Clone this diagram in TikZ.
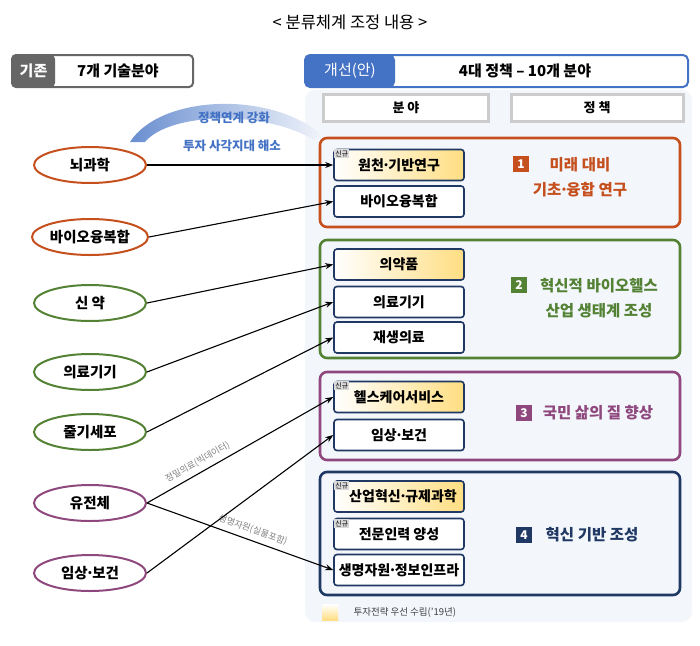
\documentclass[tikz,border=0pt]{standalone}
\usepackage{fontspec}
\setmainfont{Noto Sans CJK KR}
\usetikzlibrary{arrows.meta,shapes.geometric}
\definecolor{grpone}{RGB}{197,80,30}
\definecolor{grptwo}{RGB}{84,130,53}
\definecolor{grpthree}{RGB}{142,72,125}
\definecolor{grpfour}{RGB}{32,56,100}
\definecolor{headblue}{RGB}{68,114,196}
\definecolor{panelcolor}{RGB}{243,246,251}
\definecolor{newyellow}{RGB}{255,222,130}
\newcommand{\mdot}{\hbox to 0.32em{\hss·\hss}}
\tikzset{
  oldfield/.style={ellipse, draw=#1, line width=2pt, minimum width=112pt, minimum height=36pt, inner sep=1pt, font=\bfseries\fontsize{14.5}{16}\selectfont},
  fieldbox/.style={draw=grpfour, line width=1.6pt, rounded corners=3pt, minimum width=130pt, minimum height=31pt, inner sep=1pt, fill=white, font=\bfseries\fontsize{14}{16}\selectfont},
  newfield/.style={fieldbox, left color=white, right color=newyellow},
  groupbox/.style={draw=#1, line width=2.6pt, rounded corners=7pt},
  grouptext/.style={text=#1, font=\bfseries\fontsize{15.5}{25}\selectfont, align=center},
  numbox/.style={fill=#1, text=white, font=\bfseries\fontsize{12}{13}\selectfont, minimum size=16pt, inner sep=0pt},
  newtag/.style={fill=black!15, font=\fontsize{7}{8}\selectfont, inner sep=1.2pt},
  link/.style={-{Stealth[length=8pt]}, line width=1.1pt},
  linklabel/.style={text=black!50, font=\fontsize{9}{10}\selectfont, sloped, above=2pt}
}
\begin{document}
\begin{tikzpicture}[x=1pt, y=-1pt]
  \useasboundingbox (0,0) rectangle (700,645);
  % title
  \node (title) at (350,22) {\fontsize{16.5}{18}\selectfont < 분류체계 조정 내용 >};

  % headers
  \draw[draw=black!60, line width=2pt, fill=white, rounded corners=4pt] (12,55) rectangle (193,87);
  \fill[black!60, rounded corners=4pt] (12,55) rectangle (55,87);
  \node[text=white, font=\bfseries\fontsize{15}{16}\selectfont] (oldtag) at (33.5,71) {기존};
  \node[font=\bfseries\fontsize{15}{16}\selectfont] (oldhead) at (118,71) {7개 기술분야};
  \draw[draw=headblue, line width=2pt, fill=white, rounded corners=5pt] (305,55) rectangle (688,87);
  \fill[headblue, rounded corners=5pt] (305,55) rectangle (395,87);
  \node[text=white, font=\fontsize{15}{16}\selectfont] (newtaghead) at (350,71) {개선(안)};
  \node[font=\bfseries\fontsize{15}{16}\selectfont] (newhead) at (525,71) {4대 정책 – 10개 분야};

  % panel
  \fill[panelcolor, rounded corners=10pt] (305,90) rectangle (692,622);
  \node[draw=black!20, line width=3pt, fill=white, minimum width=165pt, minimum height=27pt, font=\bfseries\fontsize{13}{14}\selectfont] (colfield) at (406,108) {분 야};
  \node[draw=black!20, line width=3pt, fill=white, minimum width=172pt, minimum height=27pt, font=\bfseries\fontsize{13}{14}\selectfont] (colpolicy) at (597,108) {정 책};

  % banner
  \shade[left color=headblue!80, right color=headblue!8, draw=none]
    (130,142) .. controls (160,95) and (270,90) .. (322,135)
    -- (314,140) .. controls (265,110) and (170,112) .. (145,142) -- cycle;
  \node[text=headblue, font=\bfseries\itshape\fontsize{12.5}{14}\selectfont] (bannerone) at (234,118) {정책연계 강화};
  \node[text=headblue, font=\bfseries\itshape\fontsize{12.5}{14}\selectfont] (bannertwo) at (232,146) {투자 사각지대 해소};

  % groups
  \draw[groupbox=grpone] (320,138) rectangle (680,227);
  \draw[groupbox=grptwo] (320,240) rectangle (680,358);
  \draw[groupbox=grpthree] (320,372) rectangle (680,460);
  \draw[groupbox=grpfour] (320,472) rectangle (680,595);

  \node[newfield] (basic) at (399,165) {원천\mdot 기반연구};
  \node[fieldbox] (fusion) at (399,201.5) {바이오융복합};
  \node[newfield] (drug) at (399,264.5) {의약품};
  \node[fieldbox] (device) at (399,302) {의료기기};
  \node[fieldbox] (regen) at (399,337.5) {재생의료};
  \node[newfield] (care) at (399,397) {헬스케어서비스};
  \node[fieldbox] (clinic) at (399,435) {임상\mdot 보건};
  \node[newfield] (regul) at (399,496.5) {\hspace{8pt}산업혁신\mdot 규제과학};
  \node[fieldbox] (talent) at (399,534) {전문인력 양성};
  \node[fieldbox] (infra) at (399,570) {생명자원\mdot 정보인프라};

  \node[newtag, anchor=north west] (tagone) at (334,149) {신규};
  \node[newtag, anchor=north west] (tagtwo) at (334,381) {신규};
  \node[newtag, anchor=north west] (tagthree) at (334,481) {신규};
  \node[newtag, anchor=north west] (tagfour) at (334,519) {신규};

  \node[numbox=grpone] (numone) at (521,164) {1};
  \node[grouptext=grpone] (polone) at (580,177) {미래 대비\\기초\mdot 융합 연구};
  \node[numbox=grptwo] (numtwo) at (519,285) {2};
  \node[grouptext=grptwo] (poltwo) at (599,298) {혁신적 바이오헬스\\산업 생태계 조성};
  \node[numbox=grpthree] (numthree) at (524,413) {3};
  \node[grouptext=grpthree] (polthree) at (598,413) {국민 삶의 질 향상};
  \node[numbox=grpfour] (numfour) at (524,535) {4};
  \node[grouptext=grpfour] (polfour) at (592,535) {혁신 기반 조성};

  % legend
  \shade[top color=white, bottom color=newyellow] (322,604) rectangle (338,620);
  \node[font=\fontsize{9.5}{10}\selectfont, text=black!75, anchor=west] (legend) at (350,612) {투자전략 우선 수립('19년)};

  % old fields
  \node[oldfield=grpone] (brain) at (90,165) {뇌과학};
  \node[oldfield=grpone] (oldfusion) at (90,237) {바이오융복합};
  \node[oldfield=grptwo] (newdrug) at (90,303) {신 약};
  \node[oldfield=grptwo] (olddevice) at (90,372) {의료기기};
  \node[oldfield=grptwo] (stem) at (90,432) {줄기세포};
  \node[oldfield=grpthree] (genome) at (90,503) {유전체};
  \node[oldfield=grpthree] (oldclinic) at (90,573) {임상\mdot 보건};

  % links
  \draw[link] (brain.east) -- (basic.west);
  \draw[link] (oldfusion.east) -- (fusion.west);
  \draw[link] (newdrug.east) -- (drug.west);
  \draw[link] (olddevice.east) -- (device.west);
  \draw[link] (stem.east) -- (regen.west);
  \draw[link] (genome.east) -- node[linklabel, pos=0.3] {정밀의료(빅데이터)} (care.west);
  \draw[link] (genome.east) -- node[linklabel, pos=0.55] {생명자원(실물포함)} (infra.west);
  \draw[link] (oldclinic.east) -- (clinic.west);
\end{tikzpicture}
\end{document}
